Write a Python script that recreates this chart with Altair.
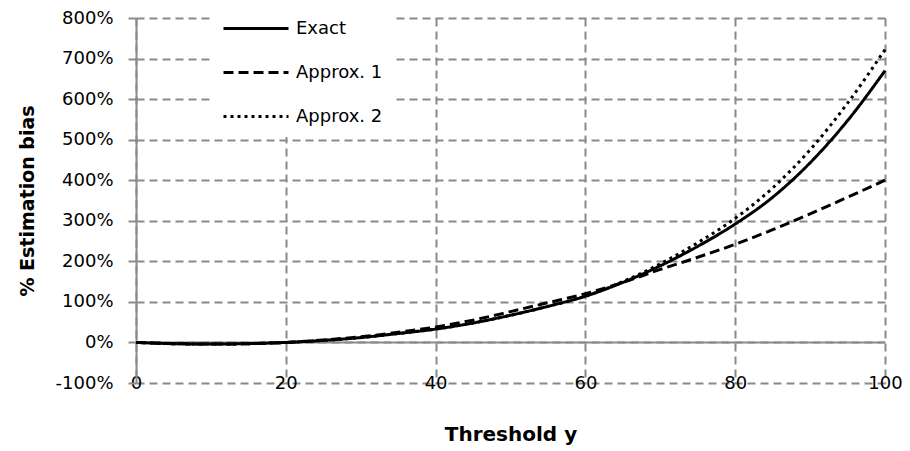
import altair as alt
import pandas as pd

# ---- data ----
threshold = [0, 5, 10, 15, 20, 25, 30, 35, 40, 45, 50, 55, 60, 65, 70, 75, 80, 85, 90, 95, 100]
exact = [0, -3, -4, -3, 0, 5, 12, 22, 33, 48, 67, 89, 114, 148, 189, 237, 292, 358, 443, 547, 670]
approx1 = [0, -3, -4, -3, 0, 6, 14, 25, 38, 55, 76, 98, 120, 148, 180, 210, 242, 278, 317, 358, 400]
approx2 = [0, -3, -4, -3, 0, 5, 12, 22, 33, 48, 67, 89, 114, 150, 194, 246, 306, 381, 475, 590, 722]
series_names = ["Exact", "Approx. 1", "Approx. 2"]
x_ticks = [0, 20, 40, 60, 80, 100]
y_ticks = [-100, 0, 100, 200, 300, 400, 500, 600, 700, 800]

rows = []
for name, vals in zip(series_names, [exact, approx1, approx2]):
    for xv, yv in zip(threshold, vals):
        rows.append({"Threshold": xv, "Bias": yv, "Series": name})
df = pd.DataFrame(rows)

zero_df = pd.DataFrame({"Threshold": [0], "End": [100], "Bias": [0]})

gray = "#8a8a8a"
font = "DejaVu Sans"
W = 749
H = 365

x_enc = alt.X(
    "Threshold:Q",
    scale=alt.Scale(domain=[0, 100], nice=False, zero=False),
    axis=alt.Axis(
        values=x_ticks, title="Threshold y", grid=True, gridDash=[8, 5],
        gridColor=gray, gridWidth=2, domain=False, ticks=False, tickSize=0,
        labelPadding=5, labelBaseline="alphabetic", labelFontSize=18,
        labelFont=font, labelColor="black", labelFlush=False,
        titleFont=font, titleFontSize=20, titleFontWeight="bold",
        titleColor="black", titleX=W / 2, titleY=57, titleBaseline="alphabetic",
    ),
)
y_enc = alt.Y(
    "Bias:Q",
    scale=alt.Scale(domain=[-100, 800], nice=False, zero=False),
    axis=alt.Axis(
        values=y_ticks, labelExpr="datum.value + '%'", title="% Estimation bias",
        grid=True, gridDash=[8, 5], gridColor=gray, gridWidth=2,
        domain=True, domainColor=gray, domainWidth=2,
        ticks=True, tickColor=gray, tickWidth=2, tickSize=8,
        labelPadding=15, labelFontSize=18, labelFont=font, labelColor="black",
        labelFlush=False,
        titleFont=font, titleFontSize=19, titleFontWeight="bold", titleColor="black",
        titleX=-103, titleY=H / 2, titleBaseline="alphabetic", titleAngle=270,
    ),
)

zero_rule = alt.Chart(zero_df).mark_rule(color=gray, strokeWidth=2).encode(
    x=x_enc, x2=alt.X2("End:Q"), y=y_enc
)

lines = alt.Chart(df).mark_line(
    strokeWidth=3, color="black", interpolate="monotone", strokeCap="butt"
).encode(
    x=x_enc,
    y=y_enc,
    strokeDash=alt.StrokeDash(
        "Series:N",
        scale=alt.Scale(domain=series_names, range=[[1, 0], [10, 5], [3, 4]]),
        legend=alt.Legend(
            title=None, orient="none", legendX=76, legendY=-10,
            direction="vertical", symbolType="stroke", symbolSize=4225,
            symbolStrokeWidth=3, symbolStrokeColor="black",
            labelFont=font, labelFontSize=18, labelColor="black",
            labelOffset=6, fillColor="white", padding=10,
            rowPadding=23, clipHeight=21,
        ),
    ),
    order=alt.Order("Threshold:Q"),
)

chart = alt.layer(zero_rule, lines).properties(
    width=W,
    height=H,
    padding={"left": 128, "top": 10, "right": 17, "bottom": 62},
    autosize=alt.AutoSizeParams(type="none"),
    background="white",
).configure_view(stroke=None)

chart.save("out.html", embed_options={"renderer": "svg", "actions": False})
